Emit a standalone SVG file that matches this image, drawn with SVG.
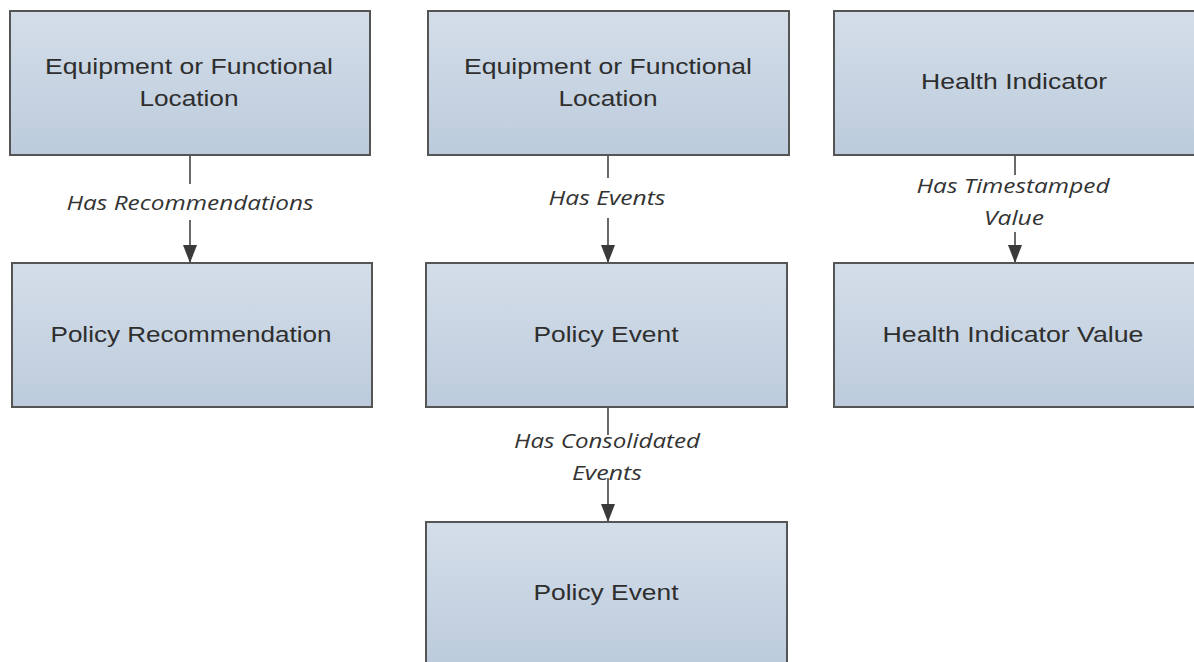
<svg xmlns="http://www.w3.org/2000/svg" width="1194" height="662" viewBox="0 0 1194 662">
<defs>
<linearGradient id="g" x1="0" y1="0" x2="0" y2="1">
<stop offset="0" stop-color="#d4dee9"/>
<stop offset="1" stop-color="#bccbdc"/>
</linearGradient>
<marker id="ah" markerWidth="18" markerHeight="14" refX="18" refY="7" orient="auto" markerUnits="userSpaceOnUse" viewBox="0 0 18 14">
<path d="M0,0 L18,7 L0,14 Z" fill="#3a3a3a"/>
</marker>
</defs>
<style>
.box{fill:url(#g);stroke:#555;stroke-width:2}
.t{font-family:"Liberation Sans",Arial,sans-serif;font-size:22px;fill:#2e2e2e;text-anchor:middle}
.e{font-family:"Open Sans","Noto Sans",sans-serif;font-style:italic;font-size:20px;fill:#333;text-anchor:middle}
.c{stroke:#444;stroke-width:1.6;fill:none}
</style>
<rect width="1194" height="662" fill="#fff"/>
<g id="connectors">
<line class="c" x1="190" y1="155" x2="190" y2="184"/>
<line class="c" x1="190" y1="220" x2="190" y2="263" marker-end="url(#ah)"/>
<text class="e" x="190" y="210" textLength="247" lengthAdjust="spacingAndGlyphs">Has Recommendations</text>
<line class="c" x1="608" y1="155" x2="608" y2="178"/>
<line class="c" x1="608" y1="218" x2="608" y2="263" marker-end="url(#ah)"/>
<text class="e" x="607" y="205" textLength="117" lengthAdjust="spacingAndGlyphs">Has Events</text>
<line class="c" x1="608" y1="407" x2="608" y2="435"/>
<line class="c" x1="608" y1="478" x2="608" y2="522" marker-end="url(#ah)"/>
<text class="e" x="607" y="448" textLength="186" lengthAdjust="spacingAndGlyphs">Has Consolidated</text>
<text class="e" x="607" y="480" textLength="70" lengthAdjust="spacingAndGlyphs">Events</text>
<line class="c" x1="1015" y1="155" x2="1015" y2="175"/>
<line class="c" x1="1015" y1="232" x2="1015" y2="263" marker-end="url(#ah)"/>
<text class="e" x="1013" y="193" textLength="193" lengthAdjust="spacingAndGlyphs">Has Timestamped</text>
<text class="e" x="1014" y="225" textLength="60" lengthAdjust="spacingAndGlyphs">Value</text>
</g>
<g id="n1">
<rect class="box" x="10" y="11" width="360" height="144"/>
<text class="t" x="189" y="74" textLength="288" lengthAdjust="spacingAndGlyphs">Equipment or Functional</text>
<text class="t" x="189" y="106" textLength="99" lengthAdjust="spacingAndGlyphs">Location</text>
</g>
<g id="n2">
<rect class="box" x="12" y="263" width="360" height="144"/>
<text class="t" x="191" y="342" textLength="281" lengthAdjust="spacingAndGlyphs">Policy Recommendation</text>
</g>
<g id="n3">
<rect class="box" x="428" y="11" width="361" height="144"/>
<text class="t" x="608" y="74" textLength="288" lengthAdjust="spacingAndGlyphs">Equipment or Functional</text>
<text class="t" x="608" y="106" textLength="99" lengthAdjust="spacingAndGlyphs">Location</text>
</g>
<g id="n4">
<rect class="box" x="426" y="263" width="361" height="144"/>
<text class="t" x="606" y="342" textLength="145" lengthAdjust="spacingAndGlyphs">Policy Event</text>
</g>
<g id="n5">
<rect class="box" x="426" y="522" width="361" height="144"/>
<text class="t" x="606" y="600" textLength="145" lengthAdjust="spacingAndGlyphs">Policy Event</text>
</g>
<g id="n6">
<rect class="box" x="834" y="11" width="362" height="144"/>
<text class="t" x="1014" y="89" textLength="186" lengthAdjust="spacingAndGlyphs">Health Indicator</text>
</g>
<g id="n7">
<rect class="box" x="834" y="263" width="362" height="144"/>
<text class="t" x="1013" y="342" textLength="261" lengthAdjust="spacingAndGlyphs">Health Indicator Value</text>
</g>
</svg>
